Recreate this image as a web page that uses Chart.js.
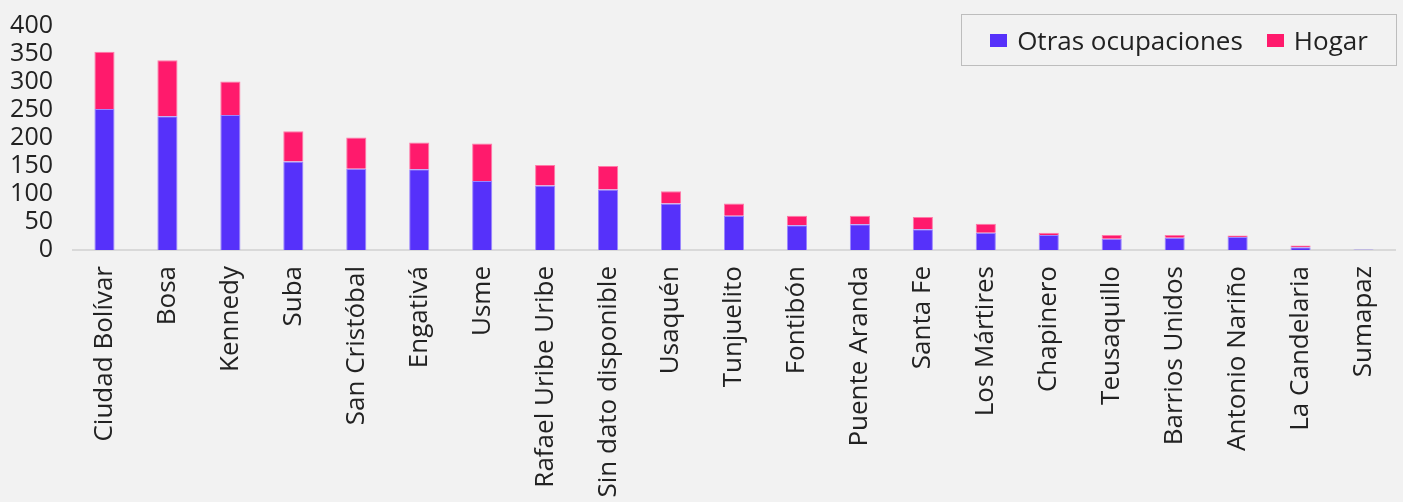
<!DOCTYPE html>
<html>
<head>
<meta charset="utf-8">
<script src="https://cdn.jsdelivr.net/npm/chart.js@4"></script>
<style>
  html, body { margin: 0; padding: 0; background: #f2f2f2; }
  #wrap { width: 1403px; height: 502px; position: relative; overflow: hidden; }
  #legend {
    position: absolute; left: 961px; top: 14px; width: 436px; height: 52px;
    border: 1.5px solid #bdbdbd; box-sizing: border-box;
    display: flex; align-items: center; justify-content: center;
    font-family: 'Open Sans', sans-serif; font-size: 26px; color: #222;
  }
  #legend span.item { display: inline-flex; align-items: center; margin: 0 12px; }
  #legend span.sw { display: inline-block; width: 17px; height: 13px; margin-right: 10px; }
</style>
</head>
<body>
<div id="wrap"><canvas id="myChart"></canvas><div id="legend"></div></div>
<script>
const localidades = ["Ciudad Bolívar", "Bosa", "Kennedy", "Suba", "San Cristóbal", "Engativá", "Usme",
  "Rafael Uribe Uribe", "Sin dato disponible", "Usaquén", "Tunjuelito", "Fontibón", "Puente Aranda",
  "Santa Fe", "Los Mártires", "Chapinero", "Teusaquillo", "Barrios Unidos", "Antonio Nariño",
  "La Candelaria", "Sumapaz"];
const otrasOcupaciones = [252, 239, 241, 158, 145, 144, 123, 115, 108, 83, 61, 44, 46, 37, 31, 27, 20, 22, 23, 5, 1];
const hogar = [102, 100, 60, 54, 56, 48, 67, 37, 42, 22, 22, 17, 15, 22, 16, 4, 7, 5, 3, 3, 0];
const yTicks = [0, 50, 100, 150, 200, 250, 300, 350, 400];

const fontName = "'Open Sans', sans-serif";

const ctx = document.getElementById('myChart').getContext('2d');
var myChart = new Chart(ctx, {
  type: 'bar',
  data: {
    labels: localidades,
    datasets: [{
      label: 'Otras ocupaciones',
      data: otrasOcupaciones,
      backgroundColor: '#5631fa',
      borderColor: '#9a86ff',
      borderWidth: 1,
      barPercentage: 0.32,
      categoryPercentage: 1
    }, {
      label: 'Hogar',
      data: hogar,
      backgroundColor: '#ff1a6c',
      borderColor: '#ff7aa8',
      borderWidth: 1,
      barPercentage: 0.32,
      categoryPercentage: 1
    }]
  },
  options: {
    responsive: true,
    maintainAspectRatio: false,
    animation: false,
    layout: { padding: { top: 26, right: 8, left: 0, bottom: 0 } },
    plugins: {
      tooltip: { enabled: false },
      legend: { display: false }
    },
    scales: {
      x: {
        stacked: true,
        grid: { display: false },
        border: { color: '#d9d9d9', width: 2 },
        ticks: {
          minRotation: 90,
          maxRotation: 90,
          autoSkip: false,
          color: '#222',
          padding: 8,
          font: { family: fontName, size: 26 }
        },
        afterFit(scale) { scale.height = 252; scale.paddingTop = 0; }
      },
      y: {
        stacked: true,
        min: 0,
        max: 400,
        grid: { display: false, drawTicks: false },
        border: { display: false },
        afterBuildTicks(scale) { scale.ticks = yTicks.map(v => ({ value: v })); },
        ticks: {
          autoSkip: false,
          color: '#222',
          padding: 20,
          font: { family: fontName, size: 25 }
        },
        afterFit(scale) { scale.width = 73; scale.paddingTop = 0; scale.paddingBottom = 0; }
      }
    }
  }
});

// legend as html, from the datasets
const legendDiv = document.getElementById('legend');
myChart.data.datasets.forEach(ds => {
  const item = document.createElement('span');
  item.className = 'item';
  item.innerHTML = '<span class="sw" style="background:' + ds.backgroundColor + '"></span>' + ds.label;
  legendDiv.appendChild(item);
});
</script>
</body>
</html>
